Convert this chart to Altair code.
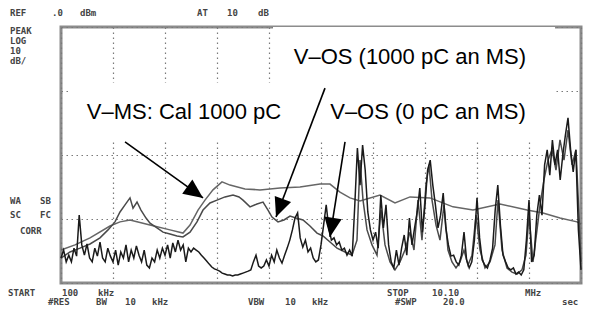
import altair as alt
import pandas as pd
import numpy as np

# ---------------- data ----------------
# analyzer sweep points (MHz) for the noisy trace
sweep_mhz = list(np.round(np.linspace(0.1, 10.1, 201), 3))

# V-OS (0 pC an MS) levels, dBm
os0_dbm = [
    -72.2, -69.7, -73.4, -71.3, -73.4, -69.1, -71.6, -58.8, -68.1, -71.3, -67.8, -72.2, -73.4, -69.1, -71.6, -67.2, -72.2, -73.4, -69.1, -71.6,
    -73.4, -69.7, -74.4, -70.3, -72.2, -68.1, -73.4, -69.7, -72.2, -68.4, -71.3, -73.4, -69.7, -74.4, -75.3, -72.2, -73.4, -69.7, -72.2, -69.1,
    -71.3, -68.1, -72.2, -67.5, -70.3, -66.6, -69.7, -68.1, -73.4, -69.1, -70.3, -69.1, -69.7, -70.3, -71.3, -72.2, -73.1, -74.1, -75.0, -75.6,
    -75.9, -76.3, -76.9, -77.2, -77.5, -77.5, -77.8, -77.5, -77.5, -77.2, -76.9, -76.6, -76.3, -75.9, -73.4, -71.3, -74.7, -75.3, -74.7, -72.8,
    -74.7, -71.3, -73.4, -69.7, -72.2, -73.8, -71.3, -69.1, -66.6, -63.4, -59.7, -58.1, -65.9, -68.8, -66.6, -70.3, -69.1, -72.2, -73.4, -72.8,
    -68.1, -61.9, -55.6, -62.8, -66.6, -65.9, -68.1, -67.2, -69.7, -69.1, -71.3, -69.7, -71.6, -55.6, -37.8, -49.4, -36.9, -44.7, -57.8, -63.4,
    -66.6, -64.1, -69.1, -52.5, -62.8, -55.6, -68.1, -73.4, -75.3, -69.7, -74.4, -69.1, -65.0, -71.3, -59.7, -68.1, -62.8, -57.8, -50.3, -64.1,
    -55.6, -44.7, -41.6, -49.4, -55.6, -62.8, -58.8, -51.9, -62.8, -68.1, -71.6, -71.3, -73.4, -74.4, -71.3, -64.1, -72.8, -75.3, -73.4, -66.6,
    -53.4, -65.9, -72.8, -74.4, -75.3, -72.8, -69.1, -57.2, -49.4, -61.9, -71.3, -73.4, -75.3, -75.9, -75.3, -77.2, -76.6, -77.5, -75.9, -66.6,
    -54.1, -73.4, -71.3, -58.8, -52.5, -58.8, -43.1, -38.4, -46.3, -35.3, -43.1, -38.4, -47.8, -40.0, -33.8, -28.4, -38.4, -45.3, -38.4, -63.4,
    -75.9,
]

# V-OS (1000 pC an MS)
os1000_mhz = [
    0.1, 0.273, 0.465, 0.658, 0.85, 1.004, 1.138, 1.235, 1.331, 1.427, 1.485, 1.562, 1.638, 1.735, 1.812, 1.946,
    2.062, 2.196, 2.331, 2.446, 2.581, 2.715, 2.831, 2.965, 3.1, 3.254, 3.408, 3.523, 3.6, 3.735, 3.869, 3.985,
    4.081, 4.158, 4.273, 4.388, 4.504, 4.619, 4.754, 4.888, 5.023, 5.138, 5.273, 5.408, 5.562, 5.696,
    5.792, 5.85, 5.908, 5.985, 6.081, 6.177, 6.254, 6.331, 6.427, 6.523, 6.619, 6.715, 6.812, 6.888, 6.965, 7.042,
    7.119, 7.177, 7.235, 7.312, 7.388, 7.465, 7.542, 7.619, 7.696, 7.773, 7.85, 7.927, 8.004, 8.081, 8.158, 8.254,
    8.35, 8.446, 8.504, 8.581, 8.677, 8.773, 8.869, 8.965, 9.042, 9.1, 9.177, 9.254, 9.312, 9.388, 9.465, 9.542,
    9.619, 9.696, 9.773, 9.85, 9.927, 10.004, 10.062, 10.1,
]
os1000_dbm = [
    -72.2, -70.3, -69.1, -67.8, -65.9, -63.4, -60.9, -57.8, -55.6, -53.4, -56.6, -54.7, -57.2, -59.7, -61.3, -62.8,
    -64.1, -64.7, -65.3, -65.6, -64.1, -60.9, -57.2, -55.0, -54.1, -53.1, -52.5, -53.1, -54.1, -56.2, -55.3, -54.7,
    -57.2, -59.4, -60.9, -60.3, -59.1, -59.7, -60.3, -62.2, -64.4, -65.3, -67.2, -69.1, -70.3, -71.3,
    -66.6, -41.6, -54.1, -63.4, -68.1, -71.3, -57.2, -68.1, -73.4, -75.9, -73.4, -69.7, -64.1, -69.7, -54.1, -66.6,
    -49.4, -43.1, -54.1, -61.9, -66.6, -55.6, -69.7, -73.4, -75.3, -73.4, -69.7, -74.4, -71.3, -58.8, -69.7, -75.3,
    -73.4, -68.1, -54.1, -69.7, -75.3, -76.6, -77.2, -75.9, -71.3, -58.8, -73.4, -63.4, -55.6, -47.8, -41.6, -38.4,
    -44.7, -35.3, -41.6, -32.2, -43.1, -38.4, -58.8, -73.4,
]

# V-MS: Cal 1000 pC
cal_mhz = [0.1, 0.369, 0.658, 1.042, 1.235, 1.427, 1.812, 2.196, 2.446, 2.581, 2.735, 2.869, 3.023, 3.196, 3.35,
           3.638, 3.927, 4.312, 4.696, 5.081, 5.273, 5.465, 5.658, 5.85, 6.235, 6.523, 6.812, 7.196, 7.638,
           8.023, 8.542, 9.062, 9.369, 9.696, 10.023, 10.1]
cal_dbm = [-69.7, -68.1, -65.9, -62.2, -60.9, -60.3, -61.9, -63.4, -64.4, -61.9, -57.2, -54.1, -50.9, -48.4, -49.4,
           -50.6, -50.9, -50.3, -50.0, -49.1, -49.1, -51.6, -53.4, -54.4, -52.5, -55.0, -53.1, -53.4, -56.2,
           -57.2, -55.3, -57.2, -58.1, -59.7, -60.9, -61.6]

# annotations
labels = ["V\u2013OS (1000 pC an MS)", "V\u2013MS: Cal 1000 pC", "V\u2013OS (0 pC an MS)"]
label_mhz = [6.81, 2.465, 7.158]
label_dbm = [-9.4, -26.6, -26.6]

arrow_from_mhz = [1.331, 5.177, 5.562]
arrow_from_dbm = [-35.9, -19.1, -35.9]
arrow_to_mhz = [2.831, 4.235, 5.273]
arrow_to_dbm = [-53.4, -59.4, -65.6]
arrow_angle = [125.7, 200.8, 189.0]

# white label backgrounds (MHz / dBm)
mask_x1 = [4.177, 0.235]
mask_x2 = [9.6, 9.6]
mask_y1 = [0.0, -17.5]
mask_y2 = [-35.3, -35.3]

# instrument screen annotations: text, left px, centre px (page coordinates)
screen_text = [
    ("REF", 10, 13), (".0", 52, 13), ("dBm", 80, 13),
    ("AT", 197, 13), ("10", 227, 13), ("dB", 258, 13),
    ("PEAK", 10, 31), ("LOG", 10, 41), ("10", 10, 51), ("dB/", 10, 61),
    ("WA", 10, 201), ("SB", 40, 201), ("SC", 10, 215), ("FC", 40, 215), ("CORR", 20, 231),
    ("START", 8, 293), ("100", 62, 293), ("kHz", 98, 293),
    ("STOP", 387, 293), ("10.10", 432, 293), ("MHz", 525, 293),
    ("#RES", 48, 302), ("BW", 96, 302), ("10", 125, 302), ("kHz", 152, 302),
    ("VBW", 248, 302), ("10", 285, 302), ("kHz", 312, 302),
    ("#SWP", 395, 302), ("20.0", 443, 302), ("sec", 562, 302),
]

# ---------------- chart ----------------
X0, Y0 = 61, 27
W, H = 520, 256
xs = alt.Scale(domain=[0.1, 10.1], nice=False, zero=False)
ys = alt.Scale(domain=[-80, 0], nice=False, zero=False)
grid_x = [round(0.1 + k, 1) for k in range(0, 11)]
grid_y = list(range(-80, 1, 10))
xax = alt.Axis(values=grid_x, labels=False, ticks=False, domain=False, title=None,
               grid=True, gridColor="#7a7a7a", gridDash=[1.5, 3.5], gridWidth=1.2)
yax = alt.Axis(values=grid_y, labels=False, ticks=False, domain=False, title=None,
               grid=True, gridColor="#7a7a7a", gridDash=[1.5, 3.5], gridWidth=1.2)

df_os0 = pd.DataFrame({"f": sweep_mhz, "L": os0_dbm})
df_os1000 = pd.DataFrame({"f": os1000_mhz, "L": os1000_dbm})
df_cal = pd.DataFrame({"f": cal_mhz, "L": cal_dbm})
df_mask = pd.DataFrame({"x1": mask_x1, "x2": mask_x2, "y1": mask_y1, "y2": mask_y2})
df_lab = pd.DataFrame({"t": labels, "f": label_mhz, "L": label_dbm})
df_arr = pd.DataFrame({"f1": arrow_from_mhz, "L1": arrow_from_dbm,
                       "f2": arrow_to_mhz, "L2": arrow_to_dbm, "a": arrow_angle})

base_grid = alt.Chart(df_mask).mark_rect(color="white", opacity=0).encode(
    x=alt.X("x1:Q", scale=xs, axis=xax), x2="x2", y=alt.Y("y1:Q", scale=ys, axis=yax), y2="y2")

masks = alt.Chart(df_mask).mark_rect(color="white").encode(
    x=alt.X("x1:Q", scale=xs), x2="x2", y=alt.Y("y1:Q", scale=ys), y2="y2")

def trace(df, color, width):
    return alt.Chart(df).mark_line(color=color, strokeWidth=width, interpolate="linear").encode(
        x=alt.X("f:Q", scale=xs), y=alt.Y("L:Q", scale=ys))

t_cal = trace(df_cal, "#666666", 1.5)
t_1000 = trace(df_os1000, "#4a4a4a", 1.5)
t_0 = trace(df_os0, "#1a1a1a", 1.5)

arr_lines = alt.Chart(df_arr).mark_rule(color="black", strokeWidth=1.6).encode(
    x=alt.X("f1:Q", scale=xs), y=alt.Y("L1:Q", scale=ys), x2="f2", y2="L2")
arr_heads = alt.Chart(df_arr).mark_point(
    shape="M0,0L-0.45,1L0.45,1Z", filled=True, color="black", opacity=1, size=1500
).encode(x=alt.X("f2:Q", scale=xs), y=alt.Y("L2:Q", scale=ys), angle=alt.Angle("a:Q", scale=None))

lab = alt.Chart(df_lab).mark_text(font="Liberation Sans", fontSize=22, color="black",
                                  align="center", baseline="middle").encode(
    x=alt.X("f:Q", scale=xs), y=alt.Y("L:Q", scale=ys), text="t:N")

layers = [base_grid, masks, t_cal, t_1000, t_0, arr_lines, arr_heads, lab]
for txt, px, py in screen_text:
    layers.append(
        alt.Chart(alt.Data(values=[{}])).mark_text(
            font="DejaVu Sans Mono", fontSize=9, fontWeight="bold", color="#444",
            align="left", baseline="middle").encode(
            x=alt.value(px - X0), y=alt.value(py - Y0), text=alt.value(txt)))

chart = alt.layer(*layers).properties(
    width=W, height=H,
    background="white",
    autosize=alt.AutoSizeParams(type="none"),
    padding={"left": X0 - 8, "top": Y0 - 8, "right": 2, "bottom": 25},
).configure_view(stroke="#8c8c8c", strokeWidth=3)

chart.save("out.html", embed_options={"renderer": "svg", "actions": False})
